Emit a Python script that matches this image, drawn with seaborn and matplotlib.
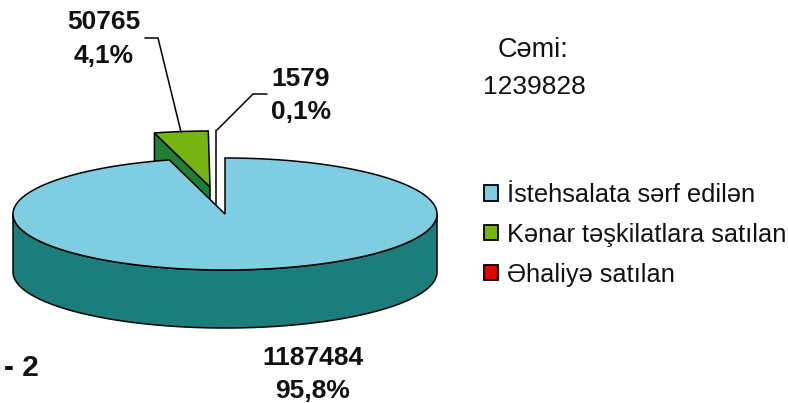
import matplotlib
matplotlib.use("Agg")
import matplotlib.pyplot as plt
import seaborn as sns
import numpy as np
from matplotlib.patches import Patch

sns.set_style("white")
plt.rcParams['font.family'] = ['Liberation Sans', 'DejaVu Sans']

categories = ['İstehsalata sərf edilən', 'Kənar təşkilatlara satılan', 'Əhaliyə satılan']
values = [1187484, 50765, 1579]
total = 1239828
top_colors = ['#7FCDE0', '#76B414', '#E80000']
side_colors = ['#1C7D7D', '#1E8030', '#8A0000']

# pie geometry in pixels
cx, cy = 225, 214
rx, ry = 212, 56
depth = 58
offsets = [(0, 0), (-15, -27), (-8, -28)]


def arc(a0, a1, dx=0, dy=0):
    t = np.radians(np.linspace(a0, a1, 300))
    return cx + dx + rx * np.sin(t), cy + dy - ry * np.cos(t)


fig = plt.figure(figsize=(7.88, 4.03), dpi=100)
ax = fig.add_axes([0, 0, 1, 1])
ax.set_xlim(0, 788)
ax.set_ylim(403, 0)
ax.axis('off')

angles = np.r_[0, np.cumsum(values) / total * 360]

# outer wall of the big slice
fx, fy = arc(90, 270)
ax.fill(np.r_[fx, fx[::-1]], np.r_[fy, fy[::-1] + depth],
        fc=side_colors[0], ec='black', lw=1.1, zorder=3)

# big slice on top, it hides the lower part of the pulled out ones
x0, y0 = arc(angles[0], angles[1])
ax.fill(np.r_[cx, x0], np.r_[cy, y0], fc=top_colors[0], ec='black', lw=1.1, zorder=4)

# green slice with its cut wall
dx, dy = offsets[1]
x1, y1 = arc(angles[1], angles[2], dx, dy)
ax.fill([x1[0], cx + dx, cx + dx, x1[0]],
        [y1[0], cy + dy, cy + dy + depth, y1[0] + depth],
        fc=side_colors[1], ec='black', lw=1.1, zorder=1)
ax.fill(np.r_[cx + dx, x1], np.r_[cy + dy, y1], fc=top_colors[1], ec='black', lw=1.1, zorder=2)

# third slice is so thin it is only a line at this size
dx, dy = offsets[2]
x2, y2 = arc((angles[2] + angles[3]) / 2, (angles[2] + angles[3]) / 2, dx, dy)
ax.plot([x2[0], x2[0]], [y2[0], cy + dy + depth], color='black', lw=1.1, zorder=1)

# leader lines
ax.plot([145, 158, 181], [38, 38, 132], color='black', lw=1.1, zorder=5)
ax.plot([267, 253, 217], [94, 94, 130], color='black', lw=1.1, zorder=5)

# slice labels
label_pos = [(313, 358, 391), (104, 22, 56), (301, 79, 112)]
for val, (lx, ly1, ly2) in zip(values, label_pos):
    pct = f'{val / total * 100:.1f}%'.replace('.', ',')
    ax.text(lx, ly1, str(val), ha='center', va='center', fontsize=19, fontweight='bold', color='#111111')
    ax.text(lx, ly2, pct, ha='center', va='center', fontsize=19, fontweight='bold', color='#111111')

ax.text(533, 50, 'Cəmi:', ha='center', va='center', fontsize=19.5, color='#111111')
ax.text(534, 87, str(total), ha='center', va='center', fontsize=19, color='#111111')
ax.text(4, 368, '- 2', ha='left', va='center', fontsize=21.5, fontweight='bold', color='#111111')

handles = [Patch(fc=c, ec='black', lw=1.3, label=n) for c, n in zip(top_colors, categories)]
ax.legend(handles=handles, loc='upper left', bbox_to_anchor=(484 / 788, 1 - 183 / 403),
          frameon=False, fontsize=18.3, handlelength=0.55, handleheight=0.55,
          handletextpad=0.35, labelspacing=0.62, borderpad=0, borderaxespad=0, labelcolor='#111111')

fig.savefig('out.png', dpi=100)
